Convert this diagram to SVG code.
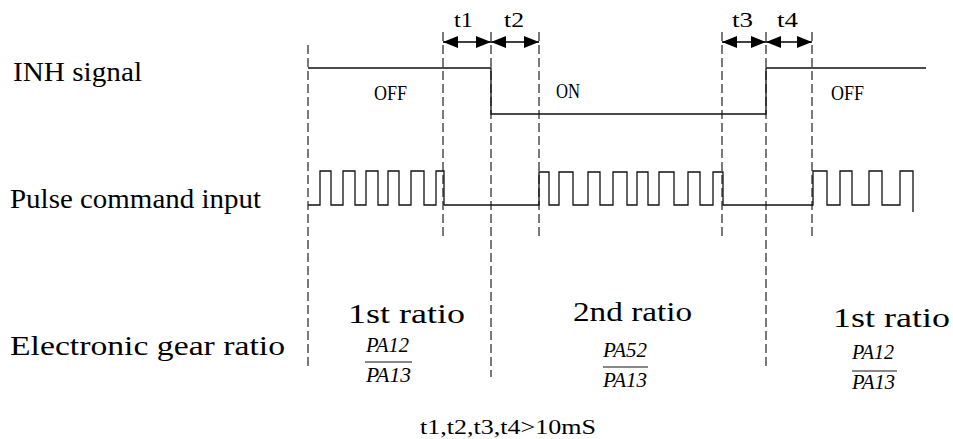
<svg xmlns="http://www.w3.org/2000/svg" width="953" height="439" viewBox="0 0 953 439">
<style>
.bg{fill:#ffffff}
.lbl{font-family:"Liberation Serif",serif;font-size:27px;fill:#000}
.st{font-family:"Liberation Serif",serif;font-size:21px;fill:#000}
.nt{font-family:"Liberation Serif",serif;font-size:20px;fill:#000}
.frac{font-family:"Liberation Serif",serif;font-size:22px;font-style:italic;fill:#000}
.dash{stroke:#333;stroke-width:1.3;stroke-dasharray:9 4;fill:none}
.sig{stroke:#111;stroke-width:1.3;fill:none}
.dim{stroke:#000;stroke-width:1.3;fill:none;marker-start:url(#ah);marker-end:url(#ah)}
.bar{stroke:#111;stroke-width:1.2}
</style>
<defs>
<marker id="ah" markerUnits="userSpaceOnUse" markerWidth="16" markerHeight="13" refX="15" refY="6" orient="auto-start-reverse">
<path d="M0,0 L15,6 L0,12 z" fill="#000"/>
</marker>
</defs>
<rect class="bg" x="0" y="0" width="953" height="439"/>

<g id="guides">
<line class="dash" x1="308" y1="45" x2="308" y2="367"/>
<line class="dash" x1="443" y1="32" x2="443" y2="237"/>
<line class="dash" x1="491" y1="32" x2="491" y2="377"/>
<line class="dash" x1="539" y1="32" x2="539" y2="237"/>
<line class="dash" x1="722" y1="32" x2="722" y2="237"/>
<line class="dash" x1="766" y1="32" x2="766" y2="367"/>
<line class="dash" x1="812" y1="32" x2="812" y2="237"/>
</g>

<g id="labels">
<text class="lbl" x="13" y="81" textLength="129" lengthAdjust="spacingAndGlyphs">INH signal</text>
<text class="lbl" x="10" y="208" textLength="251" lengthAdjust="spacingAndGlyphs">Pulse command input</text>
<text class="lbl" x="10" y="355" textLength="275" lengthAdjust="spacingAndGlyphs">Electronic gear ratio</text>
</g>

<g id="inh-signal">
<path class="sig" d="M308,68 H491 V114 H766 V68 H926"/>
<text class="st" x="374" y="100" textLength="33" lengthAdjust="spacingAndGlyphs">OFF</text>
<text class="st" x="556" y="98" textLength="24" lengthAdjust="spacingAndGlyphs">ON</text>
<text class="st" x="831" y="100" textLength="33" lengthAdjust="spacingAndGlyphs">OFF</text>
</g>

<g id="pulse-input">
<path class="sig" d="M308,205 H320 V171 H331 V205 H343 V171 H355 V205 H366 V171 H378 V205 H388 V171 H399 V205 H411 V171 H424 V205 H436 V171 H444 V205 H539 V172 H549 V205 H559 V172 H573 V205 H588 V172 H600 V205 H613 V172 H627 V205 H637 V172 H648 V205 H659 V172 H674 V205 H688 V172 H700 V205 H713 V172 H723 V205 H813 V171 H827 V205 H840 V171 H852 V205 H869 V171 H882 V205 H900 V171 H913 V212"/>
</g>

<g id="connectors">
<line class="dim" x1="443" y1="42" x2="491" y2="42"/>
<line class="dim" x1="491" y1="42" x2="539" y2="42"/>
<line class="dim" x1="722" y1="42" x2="766" y2="42"/>
<line class="dim" x1="766" y1="42" x2="812" y2="42"/>
</g>

<g id="timing-labels">
<text class="st" x="454" y="27" textLength="19" lengthAdjust="spacingAndGlyphs">t1</text>
<text class="st" x="504" y="27" textLength="20" lengthAdjust="spacingAndGlyphs">t2</text>
<text class="st" x="732" y="27" textLength="21" lengthAdjust="spacingAndGlyphs">t3</text>
<text class="st" x="777" y="27" textLength="21" lengthAdjust="spacingAndGlyphs">t4</text>
</g>

<g id="ratio-1">
<text class="lbl" x="348" y="323" textLength="117" lengthAdjust="spacingAndGlyphs">1st ratio</text>
<text class="frac" x="366" y="352" textLength="43" lengthAdjust="spacingAndGlyphs">PA12</text>
<line class="bar" x1="365" y1="362" x2="412" y2="362"/>
<text class="frac" x="366" y="382" textLength="45" lengthAdjust="spacingAndGlyphs">PA13</text>
</g>

<g id="ratio-2">
<text class="lbl" x="573" y="321" textLength="119" lengthAdjust="spacingAndGlyphs">2nd ratio</text>
<text class="frac" x="603" y="357" textLength="44" lengthAdjust="spacingAndGlyphs">PA52</text>
<line class="bar" x1="603" y1="367" x2="648" y2="367"/>
<text class="frac" x="603" y="387" textLength="44" lengthAdjust="spacingAndGlyphs">PA13</text>
</g>

<g id="ratio-3">
<text class="lbl" x="833" y="327" textLength="117" lengthAdjust="spacingAndGlyphs">1st ratio</text>
<text class="frac" x="852" y="359" textLength="42" lengthAdjust="spacingAndGlyphs">PA12</text>
<line class="bar" x1="852" y1="371" x2="897" y2="371"/>
<text class="frac" x="852" y="389" textLength="43" lengthAdjust="spacingAndGlyphs">PA13</text>
</g>

<g id="note">
<text class="nt" x="420" y="434" textLength="176" lengthAdjust="spacingAndGlyphs">t1,t2,t3,t4&gt;10mS</text>
</g>
</svg>
